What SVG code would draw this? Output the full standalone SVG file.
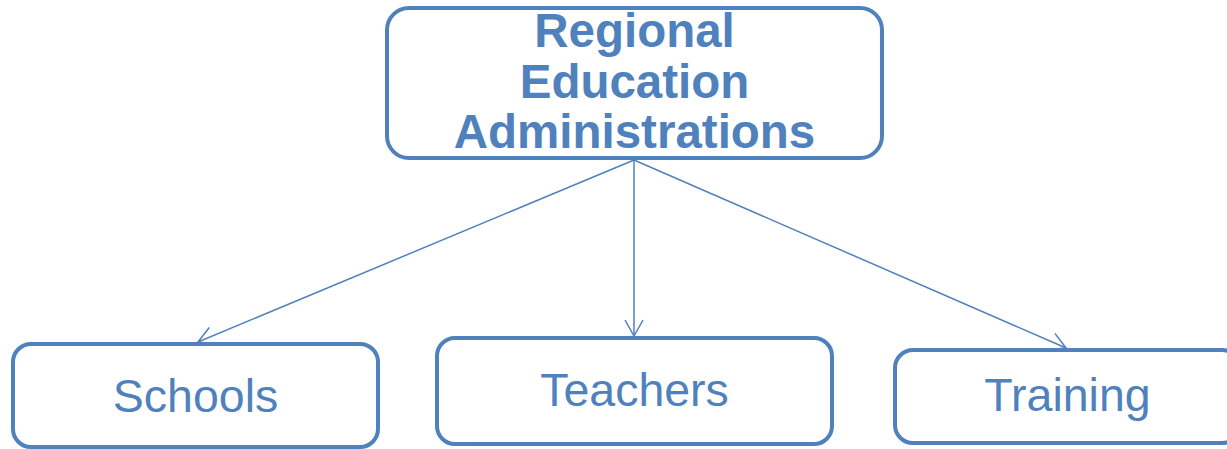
<svg xmlns="http://www.w3.org/2000/svg" width="1227" height="449" viewBox="0 0 1227 449">
<style>
.box{fill:#fff;stroke:#4F81BD;stroke-width:4}
.t{fill:#4F81BD;font-family:"Liberation Sans",Arial,sans-serif;text-anchor:middle}
.b{font-weight:bold;font-size:47.5px}
.r{font-size:46.5px}
.c{stroke:#4F81BD;stroke-width:1.5;fill:none}
</style>
<defs>
<marker id="ah" viewBox="0 0 18 20" refX="17" refY="10" markerWidth="18" markerHeight="20" markerUnits="userSpaceOnUse" orient="auto">
<path d="M1,1 L17,10 L1,19" fill="none" stroke="#4F81BD" stroke-width="1.5"/>
</marker>
</defs>
<rect width="1227" height="449" fill="#fff"/>
<g id="connectors">
<line class="c" x1="634" y1="160" x2="198" y2="342" marker-end="url(#ah)"/>
<line class="c" x1="634" y1="160" x2="634" y2="336" marker-end="url(#ah)"/>
<line class="c" x1="634" y1="160" x2="1066" y2="348" marker-end="url(#ah)"/>
</g>
<g id="regional">
<rect class="box" x="387" y="8" width="495" height="150" rx="22"/>
<text class="t b" x="634.5" y="47">Regional</text>
<text class="t b" x="634.5" y="98">Education</text>
<text class="t b" x="634.5" y="148">Administrations</text>
</g>
<g id="schools">
<rect class="box" x="13" y="344" width="365" height="103" rx="18"/>
<text class="t r" x="195.5" y="412">Schools</text>
</g>
<g id="teachers">
<rect class="box" x="437" y="338" width="395" height="106" rx="18"/>
<text class="t r" x="634.5" y="406">Teachers</text>
</g>
<g id="training">
<rect class="box" x="895" y="350" width="345" height="93" rx="18"/>
<text class="t r" x="1067.5" y="411">Training</text>
</g>
</svg>
